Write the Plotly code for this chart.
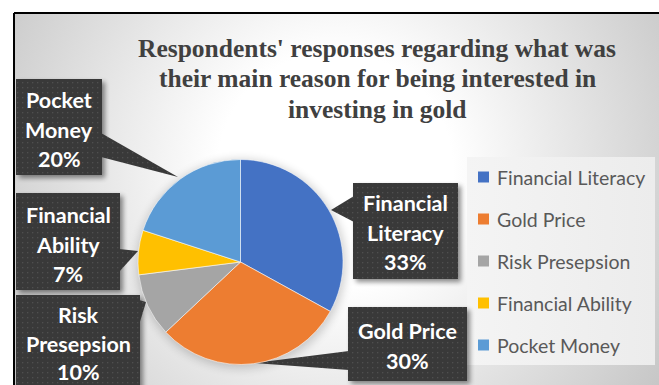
import base64
import plotly.graph_objects as go

# ---- data -------------------------------------------------------------
labels = ["Financial Literacy", "Gold Price", "Risk Presepsion",
          "Financial Ability", "Pocket Money"]
shares = [33, 30, 10, 7, 20]
# wrapped text used inside the callout boxes
callout_lines = [["Financial", "Literacy"], ["Gold Price"], ["Risk", "Presepsion"],
                 ["Financial", "Ability"], ["Pocket", "Money"]]
title_lines = ["Respondents' responses regarding what was",
               "their main reason for being interested in",
               "investing in gold"]

# ---- styling / layout -------------------------------------------------
colors = ["#4472C4", "#ED7D31", "#A5A5A5", "#FFC000", "#5B9BD5"]
W, H = 659, 385
PIE_CX, PIE_CY, PIE_R = 240.5, 262.0, 102.5
LABEL_FONT = "Lato"
TITLE_FONT = "Liberation Serif"

# callout geometry (pixels): box, pointer triangle, text centre x, first line y, line step
callout_geom = {
    "Pocket Money": dict(box=(16, 79, 102, 175), ptr=[(101, 133), (178, 177), (101, 157)],
                         tx=59, ty=100, step=29.5),
    "Financial Ability": dict(box=(16, 193, 120, 290), ptr=[(119, 249), (138, 251), (119, 272)],
                              tx=68, ty=215, step=29.5),
    "Risk Presepsion": dict(box=(16, 295, 140, 400), ptr=[(139, 300), (146, 302), (139, 325)],
                            tx=78, ty=315, step=28.5),
    "Financial Literacy": dict(box=(353, 183, 458, 279), ptr=[(354, 196), (331, 210), (354, 222)],
                               tx=405, ty=203, step=29.5),
    "Gold Price": dict(box=(348, 307, 467, 381), ptr=[(349, 351), (253, 363), (349, 370)],
                       tx=407, ty=331, step=29.5),
}


def px(x):
    return x / W


def py(y):
    return 1 - y / H


def pts(points):
    return " ".join(f"{x},{y}" for x, y in points)


fig = go.Figure()

fig.add_trace(go.Pie(
    labels=labels,
    values=shares,
    sort=False,
    direction="clockwise",
    rotation=0,
    marker=dict(colors=colors, line=dict(color="rgba(255,255,255,0.7)", width=0.8)),
    textinfo="none",
    hoverinfo="label+percent",
    showlegend=False,
    domain=dict(x=[px(PIE_CX - PIE_R), px(PIE_CX + PIE_R)],
                y=[py(PIE_CY + PIE_R), py(PIE_CY - PIE_R)]),
))

# ---- backdrop: gradient panel, pie shadow, legend panel, dotted callouts ----
x0, y0 = 14, 13
callout_svg = []
for label in labels:
    g = callout_geom[label]
    bx0, by0, bx1, by1 = g["box"]
    box = [(bx0, by0), (bx1, by0), (bx1, by1), (bx0, by1)]
    callout_svg.append(
        f"<polygon points='{pts(box)}' fill='black' opacity='0.45' "
        f"transform='translate(3,3)' filter='url(#blur)'/>")
for label in labels:
    g = callout_geom[label]
    bx0, by0, bx1, by1 = g["box"]
    box = [(bx0, by0), (bx1, by0), (bx1, by1), (bx0, by1)]
    callout_svg.append(f"<polygon points='{pts(box)}' fill='url(#dots)'/>")
    callout_svg.append(f"<polygon points='{pts(g['ptr'])}' fill='url(#dots)'/>")

svg = f"""<svg xmlns='http://www.w3.org/2000/svg' width='{W}' height='{H}' viewBox='0 0 {W} {H}'>
<defs>
<radialGradient id='bg' gradientUnits='userSpaceOnUse' cx='335' cy='170' r='420'>
<stop offset='0' stop-color='#ffffff'/><stop offset='0.28' stop-color='#ffffff'/>
<stop offset='1' stop-color='#c0c0c0'/></radialGradient>
<linearGradient id='lg' x1='0' y1='0' x2='1' y2='0'>
<stop offset='0' stop-color='#f4f4f4'/><stop offset='1' stop-color='#ececec'/></linearGradient>
<pattern id='dots' width='5' height='5' patternUnits='userSpaceOnUse'>
<rect width='5' height='5' fill='#393939'/><rect x='2' y='2' width='1.3' height='1.3' fill='#4f4f4f'/></pattern>
<filter id='blur' x='-30%' y='-30%' width='160%' height='160%'><feGaussianBlur stdDeviation='2.5'/></filter>
<filter id='soft' x='-30%' y='-30%' width='160%' height='160%'><feGaussianBlur stdDeviation='5'/></filter>
</defs>
<rect x='0' y='0' width='{W}' height='{H}' fill='white'/>
<rect x='{x0}' y='{y0}' width='{W - x0}' height='{H - y0}' fill='url(#bg)'/>
<circle cx='{PIE_CX + 1}' cy='{PIE_CY + 2}' r='{PIE_R + 2}' fill='black' opacity='0.18' filter='url(#soft)'/>
<rect x='467' y='157' width='188' height='208' fill='url(#lg)'/>
{''.join(callout_svg)}
</svg>"""
src = "data:image/svg+xml;base64," + base64.b64encode(svg.encode()).decode()
images = [dict(source=src, xref="paper", yref="paper", x=0, y=1, sizex=1, sizey=1,
               sizing="stretch", layer="below", xanchor="left", yanchor="top")]

shapes = []
annotations = []

# callout text: label lines followed by the share
for label, share, lines in zip(labels, shares, callout_lines):
    g = callout_geom[label]
    for i, txt in enumerate(lines + [f"{share}%"]):
        annotations.append(dict(
            x=px(g["tx"]), y=py(g["ty"] + i * g["step"]), xref="paper", yref="paper",
            text=f"<b>{txt}</b>", showarrow=False, xanchor="center", yanchor="middle",
            font=dict(family=LABEL_FONT, size=21.5, color="white")))

# legend entries
leg_y = [177, 219, 261, 303, 345]
for label, col, yc in zip(labels, colors, leg_y):
    shapes.append(dict(type="rect", xref="paper", yref="paper",
                       x0=px(478), x1=px(489), y0=py(yc + 5.5), y1=py(yc - 5.5),
                       fillcolor=col, line=dict(width=0)))
    annotations.append(dict(
        x=px(495), y=py(yc), xref="paper", yref="paper", text=label, showarrow=False,
        xanchor="left", yanchor="middle",
        font=dict(family=LABEL_FONT, size=19.5, color="#595959")))

# title
for i, line in enumerate(title_lines):
    annotations.append(dict(
        x=px(377), y=py(49 + i * 30), xref="paper", yref="paper",
        text=f"<b>{line}</b>", showarrow=False, xanchor="center", yanchor="middle",
        font=dict(family=TITLE_FONT, size=25.5, color="#404040")))

# frame (top and left edges)
shapes.append(dict(type="line", xref="paper", yref="paper",
                   x0=px(14), x1=1, y0=py(13), y1=py(13), line=dict(color="black", width=2)))
shapes.append(dict(type="line", xref="paper", yref="paper",
                   x0=px(14), x1=px(14), y0=py(13), y1=0, line=dict(color="black", width=2)))

fig.update_layout(
    width=W, height=H,
    margin=dict(l=0, r=0, t=0, b=0),
    paper_bgcolor="white",
    plot_bgcolor="rgba(0,0,0,0)",
    shapes=shapes,
    annotations=annotations,
    images=images,
    showlegend=False,
)

fig.write_html("out.html")
